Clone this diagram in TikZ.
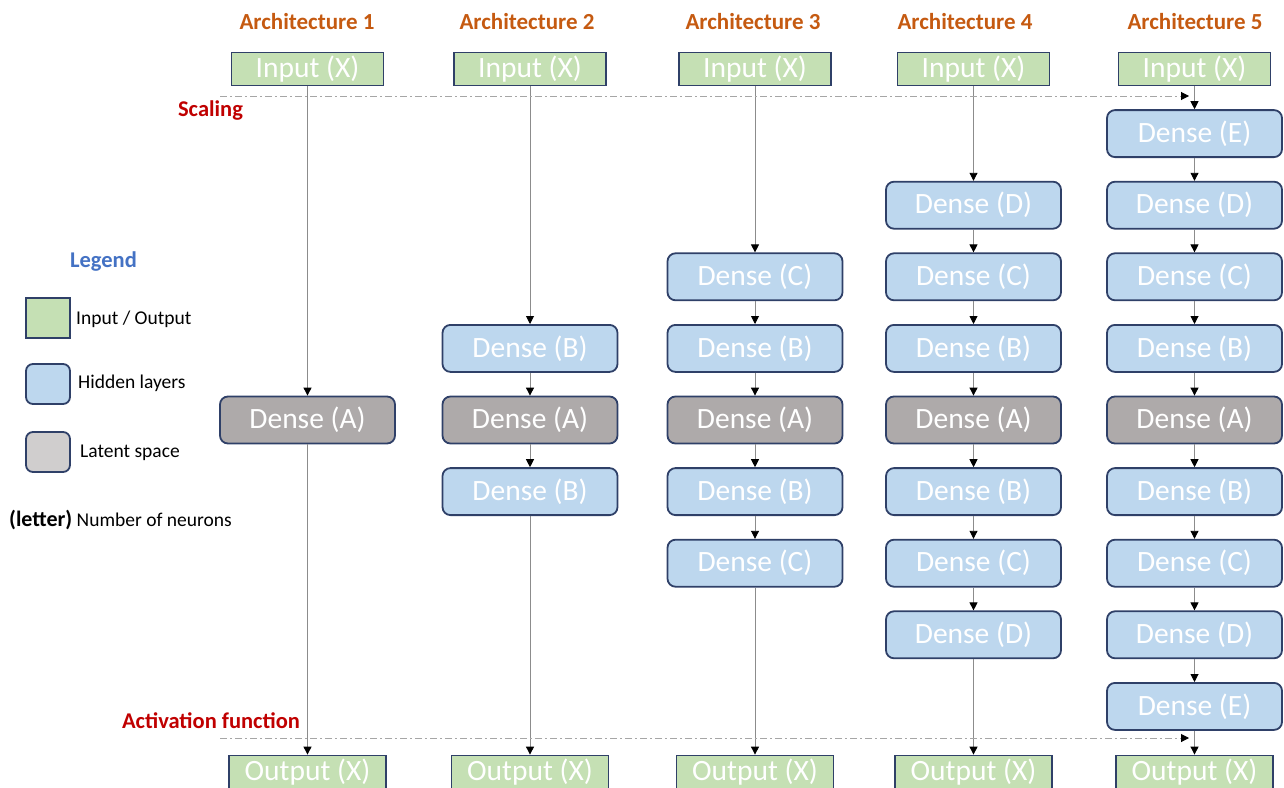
\documentclass[tikz,border=0pt]{standalone}
\usepackage{fontspec}
\setmainfont{Carlito}
\usetikzlibrary{arrows.meta}
\definecolor{iogreen}{HTML}{C5E0B4}
\definecolor{hidblue}{HTML}{BDD7EE}
\definecolor{latgray}{HTML}{AEAAAA}
\definecolor{leggray}{HTML}{D0CECE}
\definecolor{boxedge}{HTML}{2F4068}
\definecolor{titleorange}{HTML}{C55A11}
\definecolor{markred}{HTML}{C00000}
\definecolor{legblue}{HTML}{4472C4}
\definecolor{linkgray}{HTML}{8C8C8C}
\definecolor{dashgray}{HTML}{A6A6A6}
\begin{document}
\begin{tikzpicture}[x=1pt,y=-1pt,
  boxtext/.style={text=white,font=\fontsize{29.5}{31}\selectfont},
  iobox/.style={boxtext,draw=boxedge,fill=iogreen,line width=1.8pt,
    minimum width=152pt,minimum height=33pt,inner sep=0pt},
  hidden/.style={boxtext,draw=boxedge,fill=hidblue,line width=1.8pt,
    rounded corners=8pt,minimum width=175pt,minimum height=47pt,inner sep=0pt},
  latent/.style={hidden,fill=latgray},
  link/.style={draw=linkgray,line width=0.9pt,
    -{Triangle[length=8pt,width=8pt,color=black]}},
  phase/.style={draw=dashgray,line width=1pt,
    dash pattern=on 7pt off 3pt on 2pt off 3pt,
    -{Triangle[length=8pt,width=8pt,color=black]}},
  archtitle/.style={text=titleorange,font=\bfseries\fontsize{23}{25}\selectfont},
  phaselabel/.style={text=markred,font=\bfseries\fontsize{22.5}{24}\selectfont},
  legtext/.style={anchor=west,inner sep=0pt,font=\fontsize{19.5}{21}\selectfont},
  legsquare/.style={draw=boxedge,line width=1.8pt,minimum width=44pt,
    minimum height=40pt,inner sep=0pt}
]
\useasboundingbox (0,0) rectangle (1284,787);

% five autoencoder columns: name / centre x / title x / lowest row / highest row
\foreach \col/\x/\tx/\lo/\hi in {1/307.5/307/0/0, 2/530/527/-1/1, 3/755/753/-2/2,
                                  4/973.5/965/-3/3, 5/1194.5/1195/-4/4}{
  \node[archtitle] (t\col) at (\tx,22) {Architecture \col};
  \node[iobox] (in\col) at (\x,69) {Input (X)};
  \node[iobox,minimum width=157pt] (out\col) at (\x,772) {Output (X)};
  \foreach \r in {\lo,...,\hi}{
    \pgfmathtruncatemacro\k{abs(\r)}
    \pgfmathtruncatemacro\i{\r+4}
    \def\sty{hidden}
    \ifnum\k=0 \def\sty{latent}\fi
    \node[\sty] (c\col\i) at (\x,{420+\r*71.6})
      {Dense (\ifcase\k A\or B\or C\or D\or E\fi)};
  }
  \pgfmathtruncatemacro\first{\lo+4}
  \pgfmathtruncatemacro\last{\hi+4}
  \draw[link] (in\col.south) -- (c\col\first.north);
  \draw[link] (c\col\last.south) -- (out\col.north);
  \ifnum\first<\last
    \pgfmathtruncatemacro\stop{\last-1}
    \foreach \i in {\first,...,\stop}{
      \pgfmathtruncatemacro\j{\i+1}
      \draw[link] (c\col\i.south) -- (c\col\j.north);
    }
  \fi
}

% scaling and activation stages
\coordinate (sc0) at (220,96);
\coordinate (sc1) at (1189,96);
\coordinate (ac0) at (220,738);
\coordinate (ac1) at (1189,738);
\draw[phase] (sc0) -- (sc1);
\draw[phase] (ac0) -- (ac1);
\node[phaselabel] (scal) at (210.5,111) {Scaling};
\node[phaselabel] (actf) at (211,721) {Activation function};

% legend
\node[text=legblue,font=\bfseries\fontsize{22.5}{24}\selectfont] (leg) at (103.5,262) {Legend};
\node[legsquare,fill=iogreen] (lg1) at (48,318) {};
\node[legsquare,fill=hidblue,rounded corners=7pt] (lg2) at (48,384) {};
\node[legsquare,fill=leggray,rounded corners=7pt] (lg3) at (48,452) {};
\node[legtext] (lt1) at (76,319) {Input / Output};
\node[legtext] (lt2) at (78,383) {Hidden layers};
\node[legtext] (lt3) at (80,453) {Latent space};
\node[legtext] (lt4) at (9,520) {{\bfseries\fontsize{22}{24}\selectfont (letter)} Number of neurons};
\end{tikzpicture}
\end{document}
